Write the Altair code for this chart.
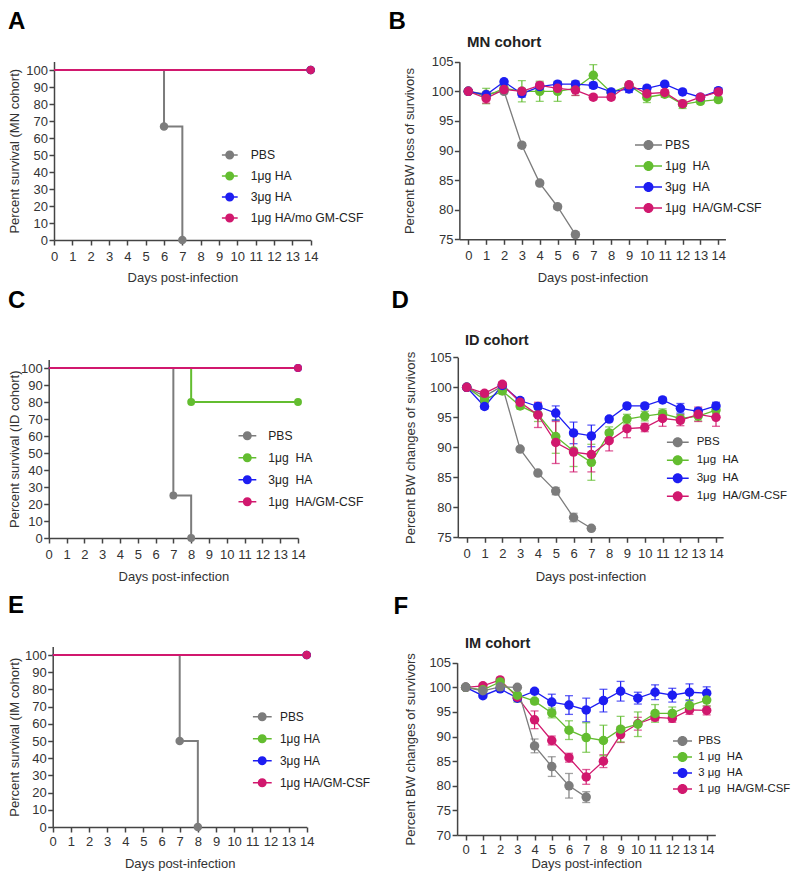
import altair as alt
import pandas as pd

FONT = "Liberation Sans"
GREY, GREEN, BLUE, PINK = "#7c7c7c", "#63bd30", "#1d1df2", "#d1186e"
COLORS = [GREY, GREEN, BLUE, PINK]
DAYS = list(range(15))

# ---------------- labels ----------------
A_labels = ["PBS", "1μg HA", "3μg HA", "1μg HA/mo GM-CSF"]
B_labels = ["PBS", "1μg\u00a0 HA", "3μg\u00a0 HA", "1μg\u00a0 HA/GM-CSF"]
C_labels = ["PBS", "1μg\u00a0 HA", "3μg\u00a0 HA", "1μg\u00a0 HA/GM-CSF"]
D_labels = ["PBS", "1μg\u00a0 HA", "3μg\u00a0 HA", "1μg\u00a0 HA/GM-CSF"]
E_labels = ["PBS", "1μg HA", "3μg HA", "1μg HA/GM-CSF"]
F_labels = ["PBS", "1 μg\u00a0 HA", "3 μg\u00a0 HA", "1 μg\u00a0 HA/GM-CSF"]

# ---------------- survival (A, C, E) ----------------
A_pbs_day, A_pbs_surv = [0, 6, 7], [100, 66.7, 0]
A_ha1_day, A_ha1_surv = [0, 14], [100, 100]
A_ha3_day, A_ha3_surv = [0, 14], [100, 100]
A_gm_day, A_gm_surv = [0, 14], [100, 100]

C_pbs_day, C_pbs_surv = [0, 7, 8], [100, 25, 0]
C_ha1_day, C_ha1_surv = [0, 8, 14], [100, 80, 80]
C_ha3_day, C_ha3_surv = [0, 14], [100, 100]
C_gm_day, C_gm_surv = [0, 14], [100, 100]

E_pbs_day, E_pbs_surv = [0, 7, 8], [100, 50, 0]
E_ha1_day, E_ha1_surv = [0, 14], [100, 100]
E_ha3_day, E_ha3_surv = [0, 14], [100, 100]
E_gm_day, E_gm_surv = [0, 14], [100, 100]

# ---------------- body weight (B, D, F) ----------------
B_pbs = [100, 99.5, 100, 90.9, 84.5, 80.5, 75.8]
B_pbs_sem = [0, 0.3, 0.3, 0.4, 0.4, 0.4, 0.4]
B_ha1 = [100, 99.2, 100.5, 100, 100, 100, 100.5, 102.7, 99.8, 101, 99, 99.5, 97.8, 98.3, 98.6]
B_ha1_sem = [0, 1.3, 0.5, 1.8, 1.7, 1.7, 1.2, 1.8, 0.4, 0.5, 0.9, 0.5, 0.7, 0.4, 0.4]
B_ha3 = [100, 99.4, 101.6, 99.6, 100.8, 101.2, 101.2, 101, 99.9, 100.4, 100.5, 101.2, 99.9, 99, 100.1]
B_ha3_sem = [0, 0.4, 0.4, 0.6, 0.5, 0.4, 0.5, 0.5, 0.4, 0.6, 0.5, 0.3, 0.3, 0.4, 0.4]
B_gm = [100, 98.8, 100.3, 100, 101, 100.5, 100.2, 99, 99, 101.1, 99.6, 99.8, 97.9, 99, 99.9]
B_gm_sem = [0, 0.8, 0.5, 0.5, 0.5, 0.6, 0.9, 0.4, 0.4, 0.4, 1.0, 0.4, 0.4, 0.4, 0.4]

D_pbs = [100, 98.5, 100.2, 89.7, 85.7, 82.7, 78.3, 76.5]
D_pbs_sem = [0, 0.3, 0.3, 0.3, 0.3, 0.6, 0.7, 0.3]
D_ha1 = [100, 97.9, 99.4, 96.9, 95.5, 91.8, 89.4, 87.5, 92.4, 94.7, 95.2, 95.6, 94.8, 95.2, 96.2]
D_ha1_sem = [0, 0.6, 0.5, 0.5, 1.2, 2.8, 2.6, 3.0, 1.0, 0.8, 0.8, 0.8, 0.7, 0.8, 0.6]
D_ha3 = [100, 96.8, 100.3, 97.8, 96.8, 95.7, 92.4, 91.9, 94.7, 96.9, 96.9, 97.9, 96.5, 96.0, 96.9]
D_ha3_sem = [0, 0.4, 0.3, 0.4, 0.5, 1.2, 1.8, 1.8, 0.4, 0.4, 0.4, 0.4, 0.8, 0.5, 0.6]
D_gm = [100, 99.0, 100.5, 97.5, 95.4, 90.8, 89.2, 88.8, 91.1, 93.1, 93.3, 94.8, 94.5, 95.5, 95.0]
D_gm_sem = [0, 0.4, 0.4, 0.5, 2.1, 3.5, 3.3, 2.9, 1.7, 1.5, 0.7, 1.3, 0.9, 1.2, 1.5]

F_pbs = [100, 99.3, 100.1, 100, 88.1, 83.9, 80.0, 77.7]
F_pbs_sem = [0, 0.4, 0.4, 0.3, 1.4, 2.0, 2.5, 1.1]
F_ha1 = [100, 99.5, 101.1, 98.4, 97.2, 94.8, 91.3, 89.8, 89.2, 91.5, 92.5, 94.7, 94.7, 96.3, 97.4]
F_ha1_sem = [0, 0.4, 0.5, 1.4, 0.5, 1.0, 1.9, 3.0, 3.1, 2.6, 2.5, 1.8, 1.3, 1.2, 1.2]
F_ha3 = [100, 98.3, 99.7, 97.8, 99.2, 97.0, 96.4, 95.4, 97.3, 99.2, 97.8, 99.0, 98.4, 99.0, 98.8]
F_ha3_sem = [0, 0.4, 0.4, 0.5, 0.4, 1.6, 1.9, 2.4, 2.3, 2.0, 1.2, 1.5, 1.4, 1.7, 1.3]
F_gm = [100, 100.3, 101.5, 98.0, 93.4, 89.2, 85.7, 81.8, 85.0, 90.4, 92.6, 93.9, 93.7, 95.4, 95.3]
F_gm_sem = [0, 0.4, 0.4, 0.5, 1.8, 0.9, 0.9, 1.5, 1.3, 1.6, 1.3, 0.7, 0.8, 0.9, 0.9]

# ---------------- single drawing surface (page px = group px + 8) ----------------
M = 8
W, H = 784, 863


def sym_path(sw, diam, lw=1.6):
    s = sw / 2.0
    t = (lw / 2.0) / s
    r = (diam / 2.0) / s
    return (f"M-1,{-t:.3f}L1,{-t:.3f}L1,{t:.3f}L-1,{t:.3f}Z "
            f"M{-r:.3f},0A{r:.3f},{r:.3f} 0 1,1 {r:.3f},0A{r:.3f},{r:.3f} 0 1,1 {-r:.3f},0Z")


def surv_frames(series):
    return [pd.DataFrame({"day": d, "val": v}) for d, v in series]


def bw_frames(series):
    frames = []
    for v, e in series:
        n = len(v)
        frames.append(pd.DataFrame({"day": DAYS[:n], "val": v,
                                    "lo": [a - b for a, b in zip(v, e)],
                                    "hi": [a + b for a, b in zip(v, e)],
                                    "sem": e}))
    return frames


def build_panel(p):
    step = (p["x14"] - p["x0"]) / 14.0
    xd = p["xdom"]
    left = p["x0"] + xd[0] * step
    right = p["x0"] + xd[1] * step
    xr = [left - M, right - M]
    yr = [p["bottom"] - M, p["top"] - M]
    xs = alt.Scale(domain=xd, range=xr, nice=False, zero=False)
    ys = alt.Scale(domain=p["ydom"], range=yr, nice=False, zero=False)
    xa = alt.Axis(orient="bottom", values=DAYS, format="d", title="Days post-infection",
                  labelOverlap=False, labelFlush=False, offset=(p["bottom"] - M) - H,
                  labelPadding=p["xlabpad"], titleY=p["xtitle_cap"] - p["bottom"] - 1)
    ya = alt.Axis(orient="left", values=p["yticks"], format="d", title=p["ytitle"],
                  labelOverlap=False, labelFlush=False, offset=-(left - M), labelPadding=1.5,
                  titleX=p["ytitle_right"] - left)

    def X(f):
        return alt.X(f, type="quantitative", scale=xs, axis=xa)

    def Y(f):
        return alt.Y(f, type="quantitative", scale=ys, axis=ya)

    layers = []
    frames = p["frames"]
    surv = p["kind"] == "surv"
    for i in p["order"]:
        df = frames[i]
        c = COLORS[i]
        if surv:
            layers.append(alt.Chart(df).mark_line(interpolate="step-after", strokeWidth=2.0, color=c)
                          .encode(x=X("day"), y=Y("val")))
        else:
            layers.append(alt.Chart(df).mark_line(strokeWidth=1.3, color=c)
                          .encode(x=X("day"), y=Y("val")))
            eb = df[df["sem"] > 0]
            layers.append(alt.Chart(eb).mark_rule(strokeWidth=1.2, color=c)
                          .encode(x=X("day"), y=Y("lo"), y2="hi"))
            layers.append(alt.Chart(eb).mark_tick(orient="horizontal", size=8, thickness=1.3, color=c)
                          .encode(x=X("day"), y=Y("lo")))
            layers.append(alt.Chart(eb).mark_tick(orient="horizontal", size=8, thickness=1.3, color=c)
                          .encode(x=X("day"), y=Y("hi")))
    pts = []
    for i in p["order"]:
        df = frames[i].copy()
        if surv:
            df = df[df["day"] > 0]
        df = df[["day", "val"]].copy()
        df["grp"] = p["labels"][i]
        pts.append(df)
    pts = pd.concat(pts, ignore_index=True)
    lg = p["legend"]
    legend = alt.Legend(title=None, orient="none",
                        legendX=lg["sl"] - M, legendY=lg["r1"] - lg["rs"] / 2.0 - M,
                        symbolType=sym_path(lg["sw"], lg["diam"]), symbolSize=lg["sw"] ** 2,
                        symbolStrokeWidth=0, labelOffset=lg["ll"] - lg["sl"] - lg["sw"],
                        clipHeight=lg["rs"], rowPadding=0, padding=0,
                        labelFont=FONT, labelFontSize=lg["fs"], labelColor="#222", labelLimit=0)
    layers.append(alt.Chart(pts).mark_point(filled=True, opacity=1, size=p["psize"], strokeWidth=0)
                  .encode(x=X("day"), y=Y("val"),
                          color=alt.Color("grp:N", scale=alt.Scale(domain=p["labels"], range=COLORS),
                                          legend=legend)))
    lx, ly = p["letter_xy"]
    layers.append(alt.Chart(pd.DataFrame({"t": [p["letter"]]}))
                  .mark_text(font=FONT, fontSize=24, fontWeight="bold", align="left",
                             baseline="alphabetic", color="#000")
                  .encode(text="t:N", x=alt.value(lx - M), y=alt.value(ly - M)))
    if p.get("cohort"):
        tx, ty = p["cohort_xy"]
        layers.append(alt.Chart(pd.DataFrame({"t": [p["cohort"]]}))
                      .mark_text(font=FONT, fontSize=p["cohort_fs"], fontWeight="bold", align="left",
                                 baseline="alphabetic", color="#222")
                      .encode(text="t:N", x=alt.value(tx - M), y=alt.value(ty - M)))
    return alt.layer(*layers)


# all geometry below in page pixels
panels = [
    dict(kind="surv", x0=54, x14=310.7, xdom=[0, 14], top=61.5, bottom=240,
         ydom=[0, 105], yticks=list(range(0, 101, 10)), ytitle="Percent survival (MN cohort)",
         ytitle_right=21.5, xtitle_cap=272.7, xlabpad=5,
         labels=A_labels, order=[0, 1, 2, 3], psize=72,
         frames=surv_frames([(A_pbs_day, A_pbs_surv), (A_ha1_day, A_ha1_surv),
                             (A_ha3_day, A_ha3_surv), (A_gm_day, A_gm_surv)]),
         legend=dict(sl=221.7, ll=250.7, sw=16, diam=9, r1=155, rs=21, fs=12.2),
         letter="A", letter_xy=(8, 29)),
    dict(kind="bw", x0=468.3, x14=718.3, xdom=[-0.5, 14.4], top=61.7, bottom=239.3,
         ydom=[75, 105], yticks=list(range(75, 106, 5)), ytitle="Percent BW loss of survivors",
         ytitle_right=416, xtitle_cap=272.7, xlabpad=4.7,
         labels=B_labels, order=[0, 1, 2, 3], psize=90,
         frames=bw_frames([(B_pbs, B_pbs_sem), (B_ha1, B_ha1_sem), (B_ha3, B_ha3_sem), (B_gm, B_gm_sem)]),
         legend=dict(sl=635, ll=665, sw=27, diam=10, r1=145, rs=21, fs=12.3),
         letter="B", letter_xy=(388.5, 29), cohort="MN cohort", cohort_xy=(467, 46.7), cohort_fs=15),
    dict(kind="surv", x0=48.7, x14=298, xdom=[0, 14], top=359.5, bottom=538,
         ydom=[0, 105], yticks=list(range(0, 101, 10)), ytitle="Percent survival (ID cohort)",
         ytitle_right=21.5, xtitle_cap=571.7, xlabpad=5.5,
         labels=C_labels, order=[0, 1, 2, 3], psize=62,
         frames=surv_frames([(C_pbs_day, C_pbs_surv), (C_ha1_day, C_ha1_surv),
                             (C_ha3_day, C_ha3_surv), (C_gm_day, C_gm_surv)]),
         legend=dict(sl=238.3, ll=268.3, sw=18, diam=9, r1=435.7, rs=21.1, fs=12.1),
         letter="C", letter_xy=(8, 308.2)),
    dict(kind="bw", x0=466.7, x14=716, xdom=[-0.5, 14.4], top=357.3, bottom=537.3,
         ydom=[75, 105], yticks=list(range(75, 106, 5)), ytitle="Percent BW changes of survivors",
         ytitle_right=417.7, xtitle_cap=571.7, xlabpad=5,
         labels=D_labels, order=[0, 1, 2, 3], psize=90,
         frames=bw_frames([(D_pbs, D_pbs_sem), (D_ha1, D_ha1_sem), (D_ha3, D_ha3_sem), (D_gm, D_gm_sem)]),
         legend=dict(sl=666.7, ll=696.7, sw=22, diam=10, r1=442.3, rs=17.3, fs=11.5),
         letter="D", letter_xy=(391.5, 308.2), cohort="ID cohort", cohort_xy=(465, 345), cohort_fs=14.5),
    dict(kind="surv", x0=52.7, x14=306.7, xdom=[0, 14], top=646.4, bottom=827,
         ydom=[0, 105], yticks=list(range(0, 101, 10)), ytitle="Percent survival (IM cohort)",
         ytitle_right=21.5, xtitle_cap=858, xlabpad=3.5,
         labels=E_labels, order=[0, 1, 2, 3], psize=72,
         frames=surv_frames([(E_pbs_day, E_pbs_surv), (E_ha1_day, E_ha1_surv),
                             (E_ha3_day, E_ha3_surv), (E_gm_day, E_gm_surv)]),
         legend=dict(sl=252.7, ll=280, sw=19, diam=9, r1=716.7, rs=21.2, fs=11.9),
         letter="E", letter_xy=(8, 613.2)),
    dict(kind="bw", x0=465.7, x14=706.7, xdom=[-0.5, 14.5], top=662.7, bottom=835,
         ydom=[70, 105], yticks=list(range(70, 106, 5)), ytitle="Percent BW changes of survivors",
         ytitle_right=417.5, xtitle_cap=858, xlabpad=3.5,
         labels=F_labels, order=[2, 3, 1, 0], psize=90,
         frames=bw_frames([(F_pbs, F_pbs_sem), (F_ha1, F_ha1_sem), (F_ha3, F_ha3_sem), (F_gm, F_gm_sem)]),
         legend=dict(sl=673, ll=698.3, sw=19, diam=10, r1=741, rs=15.4, fs=11.3),
         letter="F", letter_xy=(393.5, 614.2), cohort="IM cohort", cohort_xy=(465, 648), cohort_fs=14.5),
]

chart = (alt.layer(*[build_panel(p) for p in panels])
         .resolve_scale(x="independent", y="independent", color="independent")
         .resolve_axis(x="independent", y="independent")
         .resolve_legend(color="independent")
         .properties(width=W, height=H, padding=0, background="white",
                     autosize=alt.AutoSizeParams(type="none"))
         .configure_view(stroke=None)
         .configure_axis(grid=False, domainColor="#444", tickColor="#444", domainWidth=1.5, tickWidth=1.5,
                         tickSize=5, labelFont=FONT, labelFontSize=13, labelColor="#333",
                         titleFont=FONT, titleFontSize=13, titleColor="#333", titleFontWeight="normal"))

chart.save("out.html", embed_options={"renderer": "svg", "actions": False})
